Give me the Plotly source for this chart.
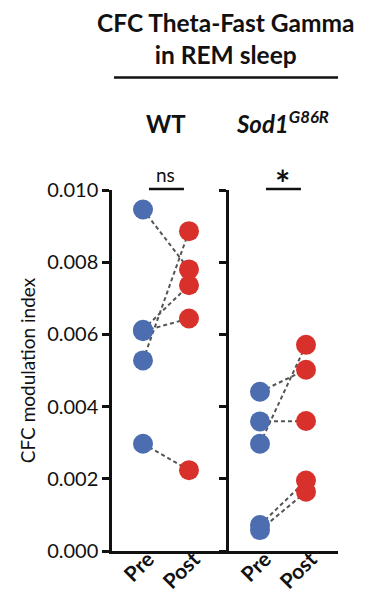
import plotly.graph_objects as go

categories = ["Pre", "Post"]
groups = ["WT", "Sod1<sup>G86R</sup>"]
wt_pre = [0.00946, 0.00613, 0.00609, 0.00528, 0.00297]
wt_post = [0.00780, 0.00736, 0.00644, 0.00886, 0.00224]
sod_pre = [0.00441, 0.00359, 0.00297, 0.00072, 0.00058]
sod_post = [0.00502, 0.00360, 0.00571, 0.00195, 0.00164]
y_ticks = [0.000, 0.002, 0.004, 0.006, 0.008, 0.010]
y_tick_text = ["0.000", "0.002", "0.004", "0.006", "0.008", "0.010"]

BLUE = "#4c6db0"
RED = "#d8312c"
LINE = "#555555"
FONT = "Lato, Open Sans, sans-serif"

fig = go.Figure()


def add_group(pre, post, xa, ya):
    xs, ys = [], []
    for a, b in zip(pre, post):
        xs += [0, 1, None]
        ys += [a, b, None]
    fig.add_trace(go.Scatter(x=xs, y=ys, mode="lines", xaxis=xa, yaxis=ya,
                             line=dict(color=LINE, width=2, dash="4px,3px"),
                             showlegend=False, hoverinfo="skip", cliponaxis=False))
    fig.add_trace(go.Scatter(x=[0] * len(pre), y=pre, mode="markers", xaxis=xa, yaxis=ya,
                             marker=dict(color=BLUE, size=20, line=dict(width=0)),
                             showlegend=False, cliponaxis=False))
    fig.add_trace(go.Scatter(x=[1] * len(post), y=post, mode="markers", xaxis=xa, yaxis=ya,
                             marker=dict(color=RED, size=20, line=dict(width=0)),
                             showlegend=False, cliponaxis=False))


add_group(wt_pre, wt_post, "x", "y")
add_group(sod_pre, sod_post, "x2", "y2")

# page body margin offsets the figure by 8px; positions below are in screenshot pixels
OFF = 8
W, H = 370, 594
L = 112 - OFF
T = 189.5 - OFF
R = W - (338 - OFF)
B = H - (550.7 - OFF)
PW, PH = W - L - R, H - T - B
split = (229 - OFF - L) / PW


def py(pix):
    return (H - B - (pix - OFF)) / PH


def px(pix):
    return (pix - OFF - L) / PW


xcommon = dict(tickvals=[0, 1], ticktext=categories, showline=True, linewidth=2.5,
               linecolor="#111", ticks="", showgrid=False, zeroline=False, automargin=False,
               tickangle=-45, ticklabelshift=5, ticklabelstandoff=-15,
               tickfont=dict(family=FONT, size=21, color="#111", weight="bold"))
ycommon = dict(range=[0, 0.010], tickvals=y_ticks, ticktext=y_tick_text, showline=True,
               linewidth=2.5, linecolor="#111", ticks="outside", ticklen=7, tickwidth=2.5,
               tickcolor="#111", showgrid=False, zeroline=False, automargin=False)

fig.update_layout(
    width=W, height=H,
    margin=dict(l=L, r=R, t=T, b=B, autoexpand=False),
    paper_bgcolor="white", plot_bgcolor="white",
    font=dict(family=FONT, color="#111"),
    xaxis=dict(domain=[0, split], range=[-0.674, 1.870], anchor="y", **xcommon),
    xaxis2=dict(domain=[split, 1], range=[-0.674, 1.696], anchor="y2", **xcommon),
    yaxis=dict(domain=[0, 1], anchor="x", tickfont=dict(family=FONT, size=20, color="#111"),
               title=dict(text="CFC modulation index", font=dict(family=FONT, size=19, color="#111"),
                          standoff=7), **ycommon),
    yaxis2=dict(domain=[0, 1], anchor="x2", showticklabels=False, **ycommon),
)

# Title and group labels
fig.add_annotation(text="<b>CFC Theta-Fast Gamma<br>in REM sleep</b>", xref="paper", yref="paper",
                   x=px(225), y=py(38), showarrow=False,
                   font=dict(family=FONT, size=24.5, color="#111"),
                   xanchor="center", yanchor="middle", align="center")
fig.add_shape(type="line", xref="paper", yref="paper", x0=px(114), x1=px(338),
              y0=py(77), y1=py(77), line=dict(color="#111", width=2.5))

fig.add_annotation(text="<b>" + groups[0] + "</b>", xref="x", yref="paper", x=0.5, y=py(123),
                   showarrow=False, font=dict(family=FONT, size=24, color="#111"),
                   xanchor="center", yanchor="middle")
fig.add_annotation(text="<b><i>" + groups[1] + "</i></b>", xref="x2", yref="paper", x=0.5, y=py(121),
                   showarrow=False, font=dict(family=FONT, size=24, color="#111"),
                   xanchor="center", yanchor="middle")

# significance bars
for xr, txt, sz, ty in [("x", "ns", 19, 174), ("x2", "<b>*</b>", 36, 182)]:
    fig.add_shape(type="line", xref=xr, yref="paper", x0=0.13, x1=0.89, y0=py(188.5), y1=py(188.5),
                  line=dict(color="#111", width=2.5))
    fig.add_annotation(text=txt, xref=xr, yref="paper", x=0.5, y=py(ty), showarrow=False,
                       font=dict(family=FONT, size=sz, color="#111"),
                       xanchor="center", yanchor="middle")

fig.write_html("out.html")
